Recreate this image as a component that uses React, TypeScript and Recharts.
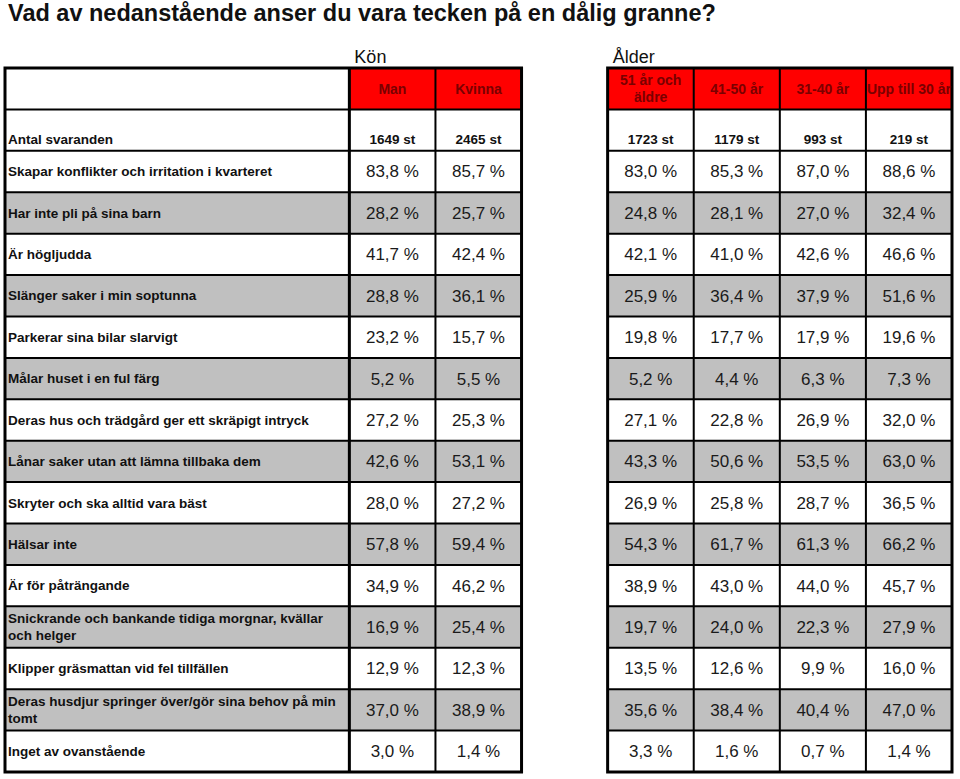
import React from "react";
import {ReferenceArea, ReferenceLine, Scatter, ScatterChart, XAxis, YAxis} from "recharts";

const title = "Vad av nedanstående anser du vara tecken på en dålig granne?";
const groups = ["Kön", "Ålder"];
const columns = ["Man", "Kvinna", "51 år och\näldre", "41-50 år", "31-40 år", "Upp till 30 år"];
const countLabel = "Antal svaranden";
const counts = [1649, 2465, 1723, 1179, 993, 219];

const categories = [
	"Skapar konflikter och irritation i kvarteret",
	"Har inte pli på sina barn",
	"Är högljudda",
	"Slänger saker i min soptunna",
	"Parkerar sina bilar slarvigt",
	"Målar huset i en ful färg",
	"Deras hus och trädgård ger ett skräpigt intryck",
	"Lånar saker utan att lämna tillbaka dem",
	"Skryter och ska alltid vara bäst",
	"Hälsar inte",
	"Är för påträngande",
	"Snickrande och bankande tidiga morgnar, kvällar\noch helger",
	"Klipper gräsmattan vid fel tillfällen",
	"Deras husdjur springer över/gör sina behov på min\ntomt",
	"Inget av ovanstående",
];

const man = [83.8, 28.2, 41.7, 28.8, 23.2, 5.2, 27.2, 42.6, 28.0, 57.8, 34.9, 16.9, 12.9, 37.0, 3.0];
const kvinna = [85.7, 25.7, 42.4, 36.1, 15.7, 5.5, 25.3, 53.1, 27.2, 59.4, 46.2, 25.4, 12.3, 38.9, 1.4];
const age51plus = [83.0, 24.8, 42.1, 25.9, 19.8, 5.2, 27.1, 43.3, 26.9, 54.3, 38.9, 19.7, 13.5, 35.6, 3.3];
const age41to50 = [85.3, 28.1, 41.0, 36.4, 17.7, 4.4, 22.8, 50.6, 25.8, 61.7, 43.0, 24.0, 12.6, 38.4, 1.6];
const age31to40 = [87.0, 27.0, 42.6, 37.9, 17.9, 6.3, 26.9, 53.5, 28.7, 61.3, 44.0, 22.3, 9.9, 40.4, 0.7];
const ageUpTo30 = [88.6, 32.4, 46.6, 51.6, 19.6, 7.3, 32.0, 63.0, 36.5, 66.2, 45.7, 27.9, 16.0, 47.0, 1.4];

const series = [man, kvinna, age51plus, age41to50, age31to40, ageUpTo30];

// layout in grid units: label column 0-4, gender 4-6, gap, age 7-11
const colStart = [4, 5, 7, 8, 9, 10];
const blocks = [[0, 6], [7, 11]];
const groupStart = [4, 7];
const ROWS = 2 + categories.length;

const FONT = "'Liberation Sans', Arial, Helvetica, sans-serif";

const fmt = (v: number) => v.toFixed(1).replace(".", ",") + " %";

const headerData = columns.map((text, i) => ({x: colStart[i] + 0.5, y: 0.5, text}));
const countData = counts.map((n, i) => ({x: colStart[i] + 0.5, y: 1.72, text: `${n} st`}));
const labelData = [{x: 0, y: 1.72, text: countLabel}].concat(categories.map((text, r) => ({x: 0, y: r + 2.5, text})));
const valueData = series.flatMap((vals, c) => vals.map((v, r) => ({x: colStart[c] + 0.5, y: r + 2.5, text: fmt(v)})));

const multiLine = (x: number, cy: number, text: string, lh: number, attrs: any) => {
	const lines = text.split("\n");
	const top = cy - ((lines.length - 1) * lh) / 2;
	return <text x={x} fontFamily={FONT} {...attrs}>
		{lines.map((l, i) => <tspan key={i} x={x} y={top + i * lh} dy="0.35em">{l}</tspan>)}
	</text>
};

const headerShape = (p: any) => multiLine(p.cx, p.cy, p.payload.text, 17, {textAnchor: "middle", fontSize: 14, fontWeight: "bold", fill: "#7a0000"});
const countShape = (p: any) => multiLine(p.cx, p.cy, p.payload.text, 17, {textAnchor: "middle", fontSize: 13.5, fontWeight: "bold", fill: "#111"});
const labelShape = (p: any) => multiLine(p.cx + 3, p.cy, p.payload.text, 17, {textAnchor: "start", fontSize: 13.5, fontWeight: "bold", fill: "#111"});
const valueShape = (p: any) => multiLine(p.cx, p.cy, p.payload.text, 17, {textAnchor: "middle", fontSize: 17, fill: "#1a1a1a"});

export default function App() {
	const grayRows = categories.map((_, r) => r).filter(r => r % 2 === 1);
	const hLines = Array.from({length: ROWS - 1}, (_, i) => i + 1);
	return <div style={{position: "absolute", left: 0, top: 0, width: 960, height: 779, background: "#fff"}}>
		<div style={{position: "absolute", left: 8, top: 0, fontFamily: FONT, fontSize: 23.5, lineHeight: "27px", fontWeight: "bold", color: "#111", whiteSpace: "nowrap"}}>
			{title}
		</div>
		<ScatterChart width={960} height={779} margin={{top: 68, right: 8, bottom: 7, left: 5}}>
			<XAxis type="number" dataKey="x" domain={[0, 11]} allowDataOverflow hide/>
			<YAxis type="number" dataKey="y" domain={[0, ROWS]} allowDataOverflow reversed hide/>
			{grayRows.flatMap(r => blocks.map(([a, b]) =>
				<ReferenceArea key={`g${r}-${a}`} x1={a} x2={b} y1={r + 2} y2={r + 3} fill="#c0c0c0" fillOpacity={1} stroke="none"/>
			))}
			{blocks.map(([a, b]) =>
				<ReferenceArea key={`red${a}`} x1={a === 0 ? 4 : a} x2={b} y1={0} y2={1} fill="#ff0000" fillOpacity={1} stroke="none"/>
			)}
			{groups.map((g, i) =>
				<ReferenceArea key={`grp${i}`} x1={groupStart[i]} x2={groupStart[i] + 2} y1={-1} y2={0} ifOverflow="visible" fill="none" stroke="none"
											 label={{value: g, position: "insideBottomLeft", offset: 5, fontSize: 18, fill: "#111", fontFamily: FONT}}/>
			)}
			{hLines.flatMap(y => blocks.map(([a, b]) =>
				<ReferenceLine key={`h${y}-${a}`} segment={[{x: a, y}, {x: b, y}]} stroke="#000" strokeWidth={2}/>
			))}
			{[5, 8, 9, 10].map(x =>
				<ReferenceLine key={`v${x}`} segment={[{x, y: 0}, {x, y: ROWS}]} stroke="#000" strokeWidth={2}/>
			)}
			<ReferenceLine segment={[{x: 4, y: 0}, {x: 4, y: ROWS}]} stroke="#000" strokeWidth={3}/>
			{blocks.map(([a, b]) =>
				<ReferenceArea key={`out${a}`} x1={a} x2={b} y1={0} y2={ROWS} fill="none" stroke="#000" strokeWidth={3}/>
			)}
			<Scatter data={headerData} shape={headerShape} isAnimationActive={false}/>
			<Scatter data={countData} shape={countShape} isAnimationActive={false}/>
			<Scatter data={labelData} shape={labelShape} isAnimationActive={false}/>
			<Scatter data={valueData} shape={valueShape} isAnimationActive={false}/>
		</ScatterChart>
	</div>
}
